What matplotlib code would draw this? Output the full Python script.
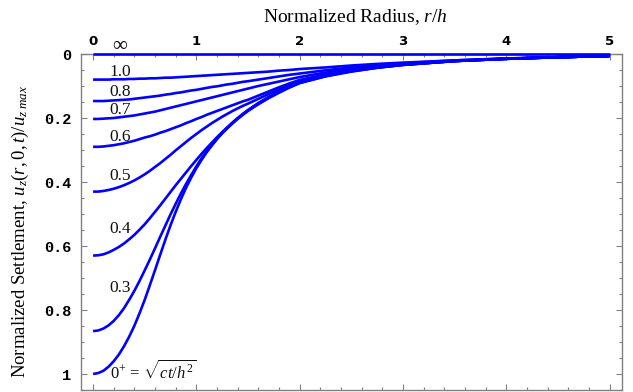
import matplotlib
matplotlib.use("Agg")
import matplotlib.pyplot as plt
from matplotlib.ticker import MultipleLocator, FixedLocator

plt.rcParams['mathtext.fontset'] = 'custom'
plt.rcParams['mathtext.rm'] = 'Liberation Serif'
plt.rcParams['mathtext.it'] = 'Liberation Serif:italic'
plt.rcParams['mathtext.bf'] = 'Liberation Serif:bold'

# normalized radius r/h
radius = [0.00, 0.05, 0.10, 0.15, 0.20, 0.25, 0.30, 0.35, 0.40, 0.45,
          0.50, 0.55, 0.60, 0.65, 0.70, 0.75, 0.80, 0.85, 0.90, 0.95,
          1.00, 1.05, 1.10, 1.15, 1.20, 1.25, 1.30, 1.35, 1.40, 1.45,
          1.50, 1.6, 1.7, 1.8, 1.9, 2.0, 2.25, 2.5, 2.75, 3.0,
          3.5, 4.0, 4.5, 5.0]

# normalized settlement for each time factor sqrt(ct/h^2)
u_inf = [0.0] * len(radius)
u_10 = [0.080, 0.080, 0.080, 0.080, 0.079, 0.079, 0.079, 0.078, 0.078, 0.077,
        0.077, 0.076, 0.076, 0.075, 0.074, 0.074, 0.073, 0.072, 0.071, 0.070,
        0.069, 0.068, 0.067, 0.066, 0.065, 0.064, 0.063, 0.062, 0.061, 0.060,
        0.059, 0.057, 0.055, 0.052, 0.050, 0.047, 0.042, 0.036, 0.031, 0.027,
        0.020, 0.014, 0.010, 0.006]
u_08 = [0.147, 0.147, 0.147, 0.146, 0.145, 0.144, 0.143, 0.142, 0.140, 0.138,
        0.136, 0.134, 0.132, 0.130, 0.127, 0.125, 0.122, 0.120, 0.117, 0.114,
        0.112, 0.109, 0.106, 0.103, 0.101, 0.098, 0.095, 0.093, 0.090, 0.087,
        0.085, 0.080, 0.075, 0.070, 0.065, 0.061, 0.051, 0.042, 0.035, 0.029,
        0.020, 0.014, 0.010, 0.006]
u_07 = [0.203, 0.203, 0.202, 0.201, 0.200, 0.198, 0.196, 0.194, 0.192, 0.189,
        0.186, 0.183, 0.180, 0.176, 0.172, 0.168, 0.164, 0.160, 0.156, 0.152,
        0.148, 0.144, 0.140, 0.136, 0.132, 0.128, 0.124, 0.120, 0.116, 0.112,
        0.108, 0.100, 0.093, 0.086, 0.079, 0.072, 0.058, 0.047, 0.038, 0.031,
        0.021, 0.015, 0.010, 0.006]
u_06 = [0.290, 0.290, 0.289, 0.287, 0.285, 0.282, 0.279, 0.275, 0.271, 0.266,
        0.261, 0.257, 0.252, 0.246, 0.241, 0.235, 0.229, 0.223, 0.216, 0.210,
        0.203, 0.197, 0.190, 0.184, 0.178, 0.172, 0.166, 0.160, 0.154, 0.148,
        0.143, 0.130, 0.117, 0.104, 0.092, 0.081, 0.064, 0.051, 0.040, 0.033,
        0.022, 0.015, 0.010, 0.006]
u_05 = [0.430, 0.430, 0.428, 0.425, 0.421, 0.416, 0.410, 0.403, 0.395, 0.386,
        0.376, 0.365, 0.353, 0.341, 0.328, 0.315, 0.301, 0.288, 0.275, 0.262,
        0.250, 0.238, 0.227, 0.216, 0.206, 0.196, 0.187, 0.178, 0.170, 0.162,
        0.155, 0.140, 0.125, 0.111, 0.097, 0.085, 0.066, 0.052, 0.041, 0.033,
        0.022, 0.015, 0.010, 0.006]
u_04 = [0.630, 0.629, 0.626, 0.620, 0.612, 0.603, 0.592, 0.579, 0.565, 0.549,
        0.532, 0.513, 0.493, 0.473, 0.452, 0.431, 0.410, 0.390, 0.370, 0.350,
        0.331, 0.312, 0.294, 0.277, 0.260, 0.244, 0.229, 0.214, 0.200, 0.187,
        0.175, 0.153, 0.134, 0.117, 0.102, 0.088, 0.068, 0.053, 0.042, 0.034,
        0.022, 0.015, 0.010, 0.006]
u_03 = [0.866, 0.864, 0.858, 0.848, 0.834, 0.816, 0.794, 0.768, 0.740, 0.709,
        0.676, 0.642, 0.607, 0.571, 0.536, 0.501, 0.468, 0.436, 0.406, 0.378,
        0.351, 0.326, 0.303, 0.283, 0.264, 0.246, 0.230, 0.215, 0.201, 0.188,
        0.176, 0.155, 0.136, 0.119, 0.104, 0.090, 0.069, 0.054, 0.043, 0.034,
        0.022, 0.015, 0.010, 0.006]
u_0p = [1.000, 0.997, 0.990, 0.977, 0.960, 0.939, 0.913, 0.883, 0.849, 0.810,
        0.768, 0.722, 0.675, 0.627, 0.580, 0.535, 0.493, 0.454, 0.418, 0.386,
        0.357, 0.331, 0.307, 0.286, 0.266, 0.248, 0.232, 0.217, 0.203, 0.190,
        0.178, 0.157, 0.138, 0.121, 0.105, 0.091, 0.070, 0.055, 0.043, 0.034,
        0.022, 0.015, 0.010, 0.006]

curves = [u_inf, u_10, u_08, u_07, u_06, u_05, u_04, u_03, u_0p]

curve_labels = ["1.0", "0.8", "0.7", "0.6", "0.5", "0.4", "0.3"]
label_r = [0.26, 0.26, 0.26, 0.26, 0.26, 0.26, 0.26]
label_u = [0.056, 0.119, 0.175, 0.259, 0.381, 0.547, 0.73]

x_ticks = [0, 1, 2, 3, 4, 5]
y_ticks = [0, 0.2, 0.4, 0.6, 0.8, 1.0]
y_tick_labels = ["0", "0.2", "0.4", "0.6", "0.8", "1"]

fig = plt.figure(figsize=(6.33, 3.92), dpi=100)
ax = fig.add_axes([81 / 633, 1 - 390 / 392, 541 / 633, 336 / 392])

blue = (0, 0, 1)
for u in curves:
    ax.plot(radius, u, color=blue, lw=1.9, clip_on=False, solid_capstyle='butt',
            solid_joinstyle='round', zorder=3)

ax.set_xlim(-0.117, 5.12)
ax.set_ylim(1.05, 0.0)

serif = ['Liberation Serif', 'DejaVu Serif']
for t, r, u in zip(curve_labels, label_r, label_u):
    ax.text(r, u, t, fontsize=12.5, family=serif, ha='center', va='center', color='#111111')
ax.text(0.26, -0.024, "\u221e", fontsize=15, family=serif, ha='center', va='center',
        color='#111111', clip_on=False)
ax.text(0.165, 0.99, r"0$^{+}$ = $\sqrt{ct/h^{2}}$", fontsize=12, family=serif,
        ha='left', va='center', color='#111111')

# frame styling
for s in ax.spines.values():
    s.set_color('#808080')
    s.set_linewidth(1.0)

ax.xaxis.tick_top()
ax.xaxis.set_major_locator(FixedLocator(x_ticks))
ax.xaxis.set_minor_locator(MultipleLocator(0.2))
ax.yaxis.set_major_locator(FixedLocator(y_ticks))
ax.yaxis.set_minor_locator(MultipleLocator(0.05))
ax.set_yticklabels(y_tick_labels)
ax.tick_params(axis='both', which='both', direction='in', color='#808080',
               top=True, bottom=True, left=True, right=True)
ax.tick_params(which='major', length=4.5, width=0.8)
ax.tick_params(which='minor', length=2.5, width=0.8)
ax.tick_params(axis='x', which='major', labeltop=True, labelbottom=False, pad=4)
ax.tick_params(axis='y', which='major', pad=7)
for lab in ax.get_xticklabels():
    lab.set_family('DejaVu Sans')
    lab.set_fontweight('bold')
    lab.set_fontsize(9.5)
for lab in ax.get_yticklabels():
    lab.set_family('Liberation Mono')
    lab.set_fontweight('bold')
    lab.set_fontsize(11)

fig.text(355 / 633, 1 - 17 / 392, r"Normalized Radius, $\it{r/h}$", fontsize=14,
         family=serif, ha='center', va='center')
fig.text(20 / 633, 1 - 232 / 392,
         r"Normalized Settlement, $u_z(r,0,t)/u_{z\;max}$",
         fontsize=13.5, family=serif, ha='center', va='center', rotation=90)

fig.savefig("out.png", dpi=100)
